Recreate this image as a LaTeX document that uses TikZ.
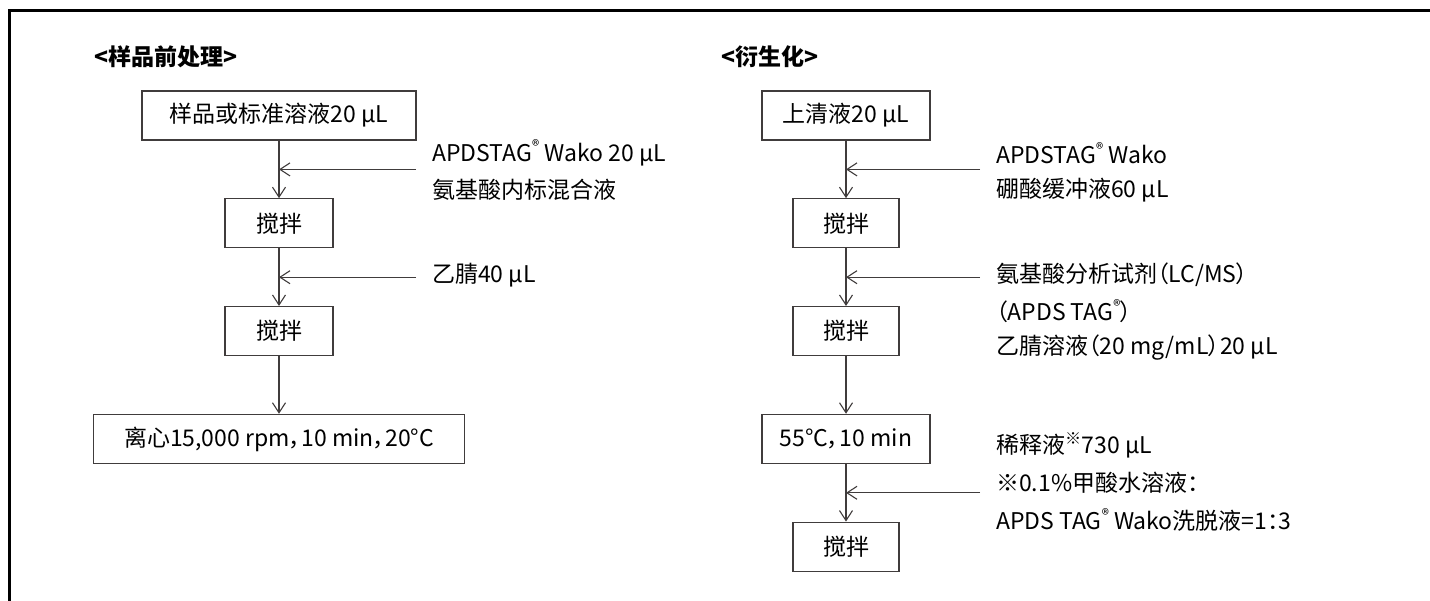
\documentclass[tikz,border=0pt]{standalone}
\usepackage{fontspec}
\setmainfont{Noto Sans CJK SC}[RawFeature=+palt]
\usetikzlibrary{arrows.meta,positioning}
\definecolor{flowgray}{RGB}{64,60,60}
\newcommand{\regmk}{\raisebox{0.42em}{\fontsize{15}{15}\selectfont ®}}

\begin{document}
\begin{tikzpicture}[
    x=1pt,y=-1pt,
    node distance=57.5pt,
    every node/.style={font=\fontsize{23}{28}\selectfont},
    box/.style={rectangle,draw=flowgray,line width=1.3pt,minimum height=49pt,
      inner sep=0pt,align=center},
    lbl/.style={anchor=west,inner sep=0pt},
    title/.style={anchor=west,inner sep=0pt,font=\fontsize{23}{28}\selectfont\bfseries},
    arrow/.style={draw=flowgray,line width=1.1pt,
      -{Straight Barb[length=10pt,width=13pt,line width=1.1pt]}}
  ]
    \useasboundingbox (0,0) rectangle (1430,600);
    % frame
    \draw[line width=3pt] (9,601) -- (9,10) -- (1431,10);

    % sample pretreatment
    \node[title] (pretitle) at (94,57) {<样品前处理>};
    \node[box,minimum width=274pt] (sample) at (279,115.5) {样品或标准溶液20 µL};
    \node[box,minimum width=108pt,below=of sample] (mixa) {搅拌};
    \node[box,minimum width=108pt,below=of mixa] (mixb) {搅拌};
    \node[box,minimum width=371pt,below=of mixb] (centri) {离心15,000 rpm，10 min，20°C};
    \draw[arrow] (sample) -- (mixa);
    \draw[arrow] (mixa) -- (mixb);
    \draw[arrow] (mixb) -- (centri);
    \path (sample) -- (mixa) coordinate[midway] (ja);
    \path (mixa) -- (mixb) coordinate[midway] (jb);
    \coordinate[right=137pt of ja] (sa);
    \coordinate[right=137pt of jb] (sb);
    \draw[arrow] (sa) -- (ja);
    \draw[arrow] (sb) -- (jb);
    \node[lbl] (reaga) at (432,153) {APDSTAG\regmk\ Wako 20 µL};
    \node[lbl] (reagb) at (432,190) {氨基酸内标混合液};
    \node[lbl] (reagc) at (432,275) {乙腈40 µL};

    % derivatization
    \node[title] (dertitle) at (721,57) {<衍生化>};
    \node[box,minimum width=168pt] (super) at (846,115.5) {上清液20 µL};
    \node[box,minimum width=106pt,below=of super] (mixc) {搅拌};
    \node[box,minimum width=106pt,below=of mixc] (mixd) {搅拌};
    \node[box,minimum width=168pt,below=of mixd] (heat) {55°C，10 min};
    \node[box,minimum width=106pt,below=of heat] (mixe) {搅拌};
    \draw[arrow] (super) -- (mixc);
    \draw[arrow] (mixc) -- (mixd);
    \draw[arrow] (mixd) -- (heat);
    \draw[arrow] (heat) -- (mixe);
    \path (super) -- (mixc) coordinate[midway] (jc);
    \path (mixc) -- (mixd) coordinate[midway] (jd);
    \path (heat) -- (mixe) coordinate[midway] (je);
    \coordinate[right=134pt of jc] (sc);
    \coordinate[right=134pt of jd] (sd);
    \coordinate[right=134pt of je] (se);
    \draw[arrow] (sc) -- (jc);
    \draw[arrow] (sd) -- (jd);
    \draw[arrow] (se) -- (je);
    \node[lbl] (buffa) at (996,153) {APDSTAG\regmk\ Wako};
    \node[lbl] (buffb) at (996,190) {硼酸缓冲液60 µL};
    \node[lbl] (tagga) at (996,275) {氨基酸分析试剂（LC/MS）};
    \node[lbl] (taggb) at (996,311) {（APDS TAG\regmk）};
    \node[lbl] (taggc) at (996,348) {乙腈溶液（20 mg/mL）20 µL};
    \node[lbl] (dilua) at (996,445) {稀释液\textsuperscript{※}730 µL};
    \node[lbl] (dilub) at (996,483) {※0.1\%甲酸水溶液：};
    \node[lbl] (diluc) at (996,520) {APDS TAG\regmk\ Wako洗脱液=1：3};
  \end{tikzpicture}
\end{document}
